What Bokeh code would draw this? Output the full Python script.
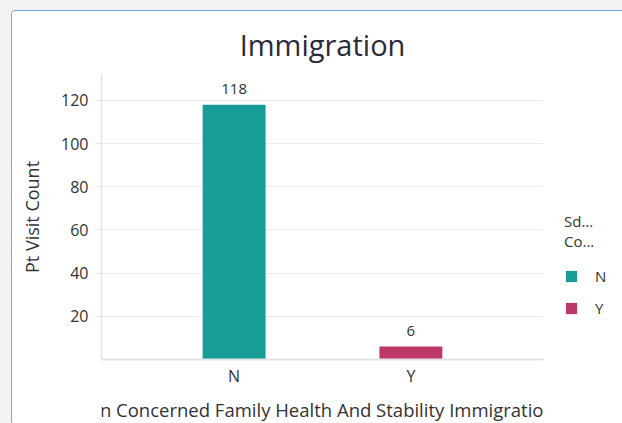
from bokeh.plotting import figure
from bokeh.models import (FactorRange, Range1d, FixedTicker, ColumnDataSource, Legend, LegendItem)
from bokeh.layouts import column
from bokeh.embed import file_html
from bokeh.resources import INLINE
from bokeh.core.properties import value

categories = ["N", "Y"]
counts = [118, 6]
colors = ["#189c96", "#bd3868"]
y_ticks = [20, 40, 60, 80, 100, 120]
title_text = "Immigration"
y_label = "Pt Visit Count"
x_label = "Sdoh Person Concerned Family Health And Stability Immigration"
legend_title = "Sd...\nCo..."

FONT = "Open Sans"
TXT = "#333333"

p = figure(x_range=FactorRange(*categories, range_padding=0.25, range_padding_units="absolute"),
           y_range=Range1d(0, 132),
           frame_width=442, frame_height=285, output_backend="svg", toolbar_location=None,
           min_border_left=89, min_border_right=100, min_border_top=61, min_border_bottom=35)
p.title.text = title_text
p.title.align = "center"
p.title.text_font = FONT
p.title.text_font_size = "29px"
p.title.text_font_style = "normal"
p.title.text_color = "#2a2a3a"
p.title.offset = 0
p.title.standoff = 22
p.outline_line_color = None
p.border_fill_color = "white"

renderers = []
for i, c in enumerate(categories):
    s = ColumnDataSource(dict(cat=[c], cnt=[counts[i]], lbl=[str(counts[i])]))
    r = p.vbar(x="cat", top="cnt", width=0.356, source=s, color=colors[i], line_color=None)
    renderers.append(r)
    p.text(x="cat", y="cnt", text="lbl", source=s, text_align="center", text_baseline="bottom",
           y_offset=-11, text_font=value(FONT), text_font_size="15px", text_color=TXT)

p.yaxis.ticker = FixedTicker(ticks=y_ticks)
p.yaxis.axis_label = y_label
p.yaxis.axis_label_text_font = FONT
p.yaxis.axis_label_text_font_size = "18px"
p.yaxis.axis_label_text_font_style = "normal"
p.yaxis.axis_label_text_color = TXT
p.yaxis.axis_label_standoff = 14
p.yaxis.major_label_text_font = FONT
p.yaxis.major_label_text_font_size = "16px"
p.yaxis.major_label_text_color = TXT
p.yaxis.axis_line_color = "#e3e3e3"
p.yaxis.axis_line_width = 1.5
p.yaxis.major_tick_line_color = "#e3e3e3"
p.yaxis.major_tick_out = 6
p.yaxis.major_tick_in = 0
p.yaxis.minor_tick_line_color = None
p.yaxis.major_label_standoff = 7

p.xaxis.major_label_text_font = FONT
p.xaxis.major_label_text_font_size = "16px"
p.xaxis.major_label_text_color = TXT
p.xaxis.axis_line_color = "#e3e3e3"
p.xaxis.axis_line_width = 2
p.xaxis.major_tick_line_color = None
p.xaxis.major_tick_out = 0
p.xaxis.major_label_standoff = 5

p.xgrid.grid_line_color = None
p.ygrid.grid_line_color = "#ededed"

legend = Legend(items=[LegendItem(label=c, renderers=[renderers[i]]) for i, c in enumerate(categories)],
                title=legend_title, location=(21, 41), border_line_color=None,
                background_fill_alpha=0, glyph_width=14, glyph_height=14, label_height=16,
                spacing=12, padding=4, margin=0, title_standoff=15, label_standoff=17,
                label_text_font=FONT, label_text_font_size="15px", label_text_color=TXT,
                title_text_font=FONT, title_text_font_size="15px", title_text_color=TXT,
                title_text_font_style="normal", title_text_line_height=1.85)
p.add_layout(legend, "right")

p2 = figure(x_range=Range1d(0, 1), y_range=Range1d(0, 1), frame_width=445, frame_height=30,
            output_backend="svg", toolbar_location=None,
            min_border_left=88, min_border_right=98, min_border_top=0, min_border_bottom=0)
p2.axis.visible = False
p2.grid.grid_line_color = None
p2.outline_line_color = None
p2.border_fill_color = "white"
p2.text(x=[1.0], y=[0.5], text=[x_label[:-1]], text_align="right", text_baseline="middle",
        text_font=value(FONT), text_font_size="18.5px", text_color=TXT, x_offset=-3)

card = column(p, p2, styles={"border": "1.5px solid #6aa8ec", "border-radius": "4px",
                             "background-color": "white"})
outer = column(card, styles={"background-color": "#f3f3f3", "padding-left": "11px",
                             "padding-top": "10px"})

open("out.html", "w").write(file_html(outer, INLINE))
